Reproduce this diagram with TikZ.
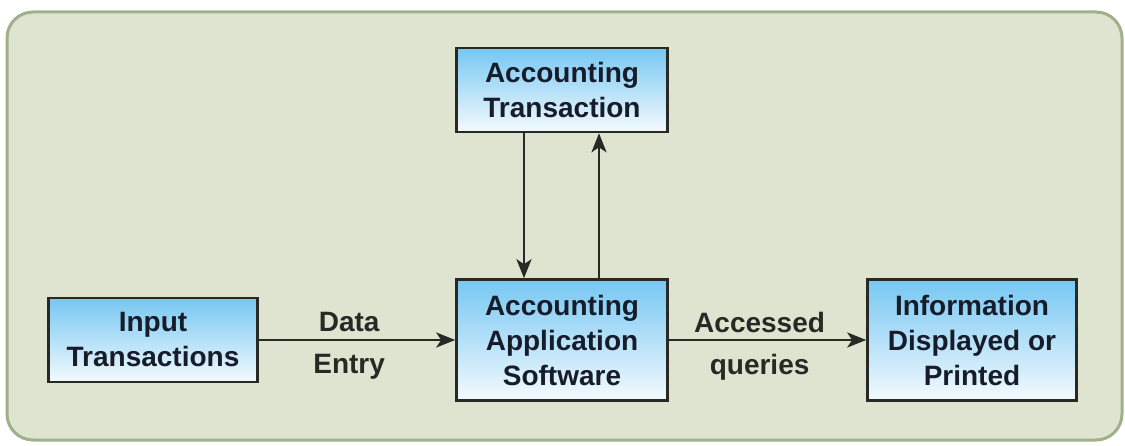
\documentclass[tikz,border=0pt]{standalone}
\usepackage{fontspec}
\setmainfont{Liberation Sans}
\usetikzlibrary{arrows.meta}

\definecolor{panelfill}{RGB}{223,228,208}
\definecolor{panelline}{RGB}{160,176,138}
\definecolor{boxtop}{RGB}{118,199,242}
\definecolor{boxbot}{RGB}{244,250,254}
\definecolor{inkdark}{RGB}{22,28,42}
\definecolor{wire}{RGB}{40,41,36}

\begin{document}
\begin{tikzpicture}[x=1pt, y=-1pt, line width=2.6pt,
  panel/.style={draw=panelline, fill=panelfill, line width=3pt, rounded corners=26pt},
  box/.style={draw=wire, top color=boxtop, bottom color=boxbot, inner sep=0pt,
    align=center, text=inkdark, font=\fontsize{28}{35}\selectfont\bfseries},
  lbl/.style={align=center, text=wire, font=\fontsize{28}{42}\selectfont\bfseries},
  arr/.style={draw=wire, line width=2.8pt, -{Stealth[length=19pt,width=15pt,inset=5pt]}}]

  \useasboundingbox (0,0) rectangle (1125,446);
  \draw[panel] (7,12) rectangle (1122,440);

  \node[box, minimum width=211pt, minimum height=84pt] (acctrans) at (562,90) {Accounting\\Transaction};
  \node[box, minimum width=209pt, minimum height=84pt] (input) at (153,340) {Input\\Transactions};
  \node[box, minimum width=211pt, minimum height=121pt] (appsoft) at (562,340) {Accounting\\Application\\Software};
  \node[box, minimum width=209pt, minimum height=121pt] (infoout) at (972,340) {Information\\Displayed or\\Printed};

  \draw[arr] (input) -- node[lbl, pos=0.46, yshift=-6pt]{Data\\Entry} (appsoft);
  \draw[arr] (appsoft) -- node[lbl, pos=0.46, yshift=-6pt]{Accessed\\queries} (infoout);

  \draw[arr] ([xshift=-38pt]acctrans.south) -- ([xshift=-38pt]appsoft.north);
  \draw[arr] ([xshift=37pt]appsoft.north) -- ([xshift=37pt]acctrans.south);

\end{tikzpicture}
\end{document}
